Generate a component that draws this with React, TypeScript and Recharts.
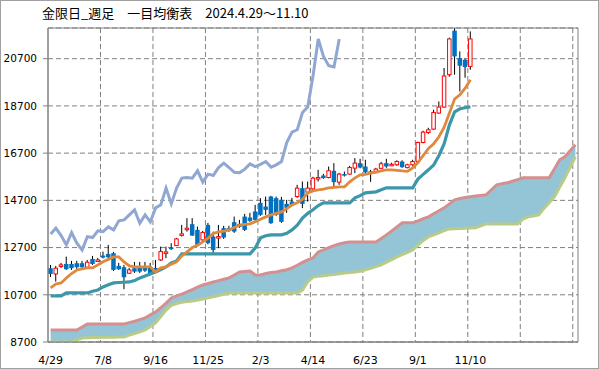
import React from 'react';
import { ComposedChart, Bar, Line, Area, XAxis, YAxis, CartesianGrid, ReferenceArea } from 'recharts';

// weekly candles, 2024/4/29 .. 2025/11/10
const xTickLabels = ['4/29', '7/8', '9/16', '11/25', '2/3', '4/14', '6/23', '9/1', '11/10'];
const xTicks = [0, 10, 20, 30, 40, 50, 60, 70, 80];
const gridX = [9.5, 19.5, 29.5, 39.5, 49.5, 59.5, 69.5, 79.5, 89.5, 99.5];
const yTicks = [8700, 10700, 12700, 14700, 16700, 18700, 20700];

const opens = [
  11825, 11583, 11901, 12007, 12007, 12037, 12037, 11867, 12219, 12135,
  12359, 12431, 12461, 11923, 11867, 11613, 11825, 11867, 11867, 11867,
  11838, 12177, 12482, 12699, 12783, 13258, 13491, 13691, 13449, 13025,
  13661, 13165, 13144, 13521, 13521, 13775, 13703, 14013, 13971, 14225,
  14594, 14437, 14861, 14793, 14721, 14551, 14649, 14861, 15217, 15047,
  15187, 15645, 15751, 15667, 15951, 15471, 15811, 15811, 16065, 16277,
  16133, 15929, 15879, 16057, 16277, 16205, 16205, 16345, 16086, 16205,
  16345, 17151, 17575, 17719, 18397, 18651, 20021, 21887, 20729, 20657,
  20373,
];
const highs = [
  11965, 11923, 12050, 12317, 12135, 12135, 12135, 12177, 12347, 12262,
  12529, 12813, 12516, 12050, 11965, 11838, 12092, 12092, 12092, 12050,
  12177, 12741, 12741, 12885, 13110, 13661, 13945, 13945, 13589, 13407,
  13746, 13377, 13661, 13619, 13619, 14013, 13873, 14127, 14170, 14509,
  14793, 14861, 14891, 14861, 14848, 14721, 14806, 15357, 15497, 15497,
  15696, 15993, 15823, 16133, 16277, 15866, 15921, 16163, 16489, 16459,
  16417, 15993, 16078, 16332, 16459, 16290, 16396, 16396, 16247, 16417,
  17180, 17647, 17774, 18537, 18889, 20305, 21590, 21990, 21009, 20699,
  21857,
];
const lows = [
  11456, 11257, 11838, 11753, 11753, 11795, 11838, 11838, 11965, 12092,
  12241, 12249, 11711, 11753, 10935, 11583, 11626, 11626, 11668, 11541,
  11668, 12135, 12249, 12601, 12771, 13165, 13377, 13195, 12771, 12983,
  12834, 12431, 12673, 13067, 13364, 13322, 13534, 13407, 13788, 13831,
  14043, 14085, 13703, 14043, 13746, 14170, 14467, 14806, 14369, 14649,
  15145, 15497, 15611, 15633, 15217, 15357, 15709, 15781, 15853, 16057,
  15823, 15484, 15845, 16035, 16078, 16163, 16163, 16078, 16057, 16163,
  16290, 17117, 17519, 17689, 18367, 18622, 19936, 20021, 19313, 19894,
  20233,
];
const closes = [
  11583, 11825, 11965, 11783, 11825, 11867, 11867, 12079, 12007, 12177,
  12275, 12291, 11753, 11783, 11443, 11753, 11681, 11681, 11723, 11583,
  11711, 12529, 12516, 12631, 13067, 13279, 13521, 13207, 12813, 13335,
  12885, 12601, 13165, 13123, 13407, 13377, 13576, 13449, 13831, 13873,
  14085, 14297, 13733, 14085, 13788, 14382, 14509, 15217, 14551, 15217,
  15641, 15667, 15641, 15951, 15471, 15811, 15751, 16091, 16277, 16091,
  15887, 15866, 16023, 16247, 16133, 16226, 16345, 16107, 16205, 16345,
  17151, 17591, 17689, 18423, 18651, 19966, 21535, 20797, 20403, 20347,
  21535,
];

// 転換線
const tenkan = [
  10990, 11159, 11202, 11414, 11600, 11750, 11800, 11838, 11838, 11965,
  12100, 12200, 12304, 12304, 12092, 11922, 11880, 11880, 11880, 11880,
  11668, 11838, 11880, 12000, 12092, 12346, 12516, 12700, 12800, 12940,
  13100, 13300, 13364, 13400, 13449, 13550, 13650, 13680, 13703, 13800,
  13900, 14000, 14085, 14150, 14212, 14350, 14500, 14600, 14750, 15018,
  15100, 15145, 15180, 15230, 15250, 15270, 15272, 15484, 15650, 15781,
  15800, 15850, 15900, 15950, 15993, 15990, 15970, 15950, 15930, 16078,
  16300, 16600, 16900, 17100, 17392, 17800, 18400, 19000, 19173, 19450,
  19809,
];
// 基準線
const kijun = [
  10650, 10650, 10650, 10778, 10778, 10778, 10778, 10778, 10850, 10905,
  11032, 11120, 11202, 11220, 11230, 11244, 11300, 11414, 11500, 11580,
  11668, 11770, 11880, 12050, 12134, 12431, 12431, 12431, 12431, 12431,
  12431, 12431, 12431, 12431, 12431, 12431, 12431, 12431, 12431, 12686,
  13110, 13200, 13237, 13237, 13237, 13300, 13449, 13650, 13950, 14150,
  14300, 14480, 14594, 14594, 14594, 14594, 14594, 14594, 14806, 14900,
  15018, 15040, 15060, 15150, 15230, 15230, 15230, 15230, 15230, 15230,
  15600, 15800, 15993, 16200, 16600, 17100, 17900, 18452, 18579, 18620,
  18664,
];
// 遅行スパン
const chikou = [
  13279, 13521, 13207, 12813, 13335, 12885, 12601, 13165, 13123, 13407,
  13377, 13576, 13449, 13831, 13873, 14085, 14297, 13733, 14085, 13788,
  14382, 14509, 15217, 14551, 15217, 15641, 15667, 15641, 15951, 15471,
  15811, 15751, 16091, 16277, 16091, 15887, 15866, 16023, 16247, 16133,
  16226, 16345, 16107, 16205, 16345, 17151, 17591, 17689, 18423, 18651,
  19966, 21535, 20797, 20403, 20347, 21535,
];
// 先行スパン1
const senkouA = [
  9209, 9209, 9209, 9209, 9209, 9209, 9330, 9463, 9463, 9463,
  9463, 9463, 9463, 9463, 9463, 9520, 9580, 9650, 9718, 9850,
  9972, 10150, 10350, 10566, 10650, 10730, 10820, 10920, 11020, 11117,
  11180, 11244, 11300, 11360, 11414, 11540, 11668, 11690, 11710, 11541,
  11541, 11600, 11640, 11668, 11720, 11760, 11838, 11950, 12070, 12180,
  12262, 12516, 12600, 12700, 12780, 12850, 12900, 12940, 12940, 12940,
  12940, 12940, 12940, 13080, 13237, 13400, 13570, 13746, 13746, 13746,
  13830, 13920, 14000, 14130, 14260, 14382, 14550, 14721, 14780, 14820,
  14848, 14880, 14910, 14933, 15150, 15357, 15400, 15442, 15510, 15580,
  15654, 15654, 15654, 15654, 15654, 15654, 16030, 16417, 16544, 16800,
  17053,
];
// 先行スパン2
const senkouB = [
  8700, 8700, 8700, 8700, 8700, 8790, 8870, 8880, 8890, 8890,
  8900, 8900, 8905, 8910, 8912, 8990, 9060, 9130, 9209, 9360,
  9506, 9780, 10050, 10250, 10330, 10380, 10410, 10438, 10480, 10523,
  10570, 10620, 10670, 10720, 10778, 10778, 10778, 10778, 10778, 10778,
  10778, 10778, 10778, 10778, 10778, 10778, 10778, 10778, 10900, 11250,
  11450, 11480, 11510, 11541, 11560, 11590, 11620, 11640, 11668, 11700,
  11753, 11820, 11890, 11965, 12080, 12190, 12304, 12400, 12500, 12601,
  12800, 13000, 13152, 13240, 13322, 13420, 13491, 13500, 13510, 13520,
  13530, 13534, 13620, 13703, 13703, 13703, 13703, 13703, 13703, 13703,
  13900, 14000, 14040, 14085, 14350, 14600, 14848, 15250, 15654, 16100,
  16544,
];

const data = senkouA.map((a, i) => ({
  i,
  range: i < closes.length ? [lows[i], highs[i]] : undefined,
  open: opens[i],
  high: highs[i],
  low: lows[i],
  close: closes[i],
  tenkan: tenkan[i],
  kijun: kijun[i],
  chikou: chikou[i],
  spanA: a,
  spanB: senkouB[i],
  cloud: [senkouB[i], a],
}));

function Candle(props: any) {
  const { x, y, width, height, payload } = props;
  if (!payload || payload.open == null || height == null) return null;
  const { open, close, high, low } = payload;
  const top = Math.min(y, y + height);
  const h = Math.abs(height);
  const k = high > low ? h / (high - low) : 0;
  const cx = x + width / 2;
  const up = close >= open;
  const bodyTop = top + (high - Math.max(open, close)) * k;
  const bodyH = Math.max(Math.abs(close - open) * k, 1.5);
  return (
    <g>
      <line x1={cx} x2={cx} y1={top} y2={top + h} stroke="#000" strokeWidth={1} />
      {up ? (
        <rect x={cx - 1.75} y={bodyTop} width={3.5} height={bodyH} fill="#fff" stroke="#ff0000" strokeWidth={1} />
      ) : (
        <rect x={cx - 2.25} y={bodyTop} width={4.5} height={bodyH} fill="#0070c0" />
      )}
    </g>
  );
}

const tickFont = { fontFamily: 'DejaVu Sans', fontSize: 10.5, fill: '#000' };

export default function App() {
  return (
    <div style={{ position: 'absolute', left: 0, top: 0, width: 599, height: 369, background: '#fff' }}>
      <div
        style={{
          position: 'absolute',
          left: 42,
          top: 3,
          fontFamily: '"Noto Sans CJK JP"',
          fontSize: 13,
          lineHeight: '20px',
          color: '#000',
          whiteSpace: 'pre',
        }}
      >
        金限日_週足　一目均衡表　2024.4.29～11.10
      </div>
      <ComposedChart width={599} height={369} data={data} margin={{ top: 28, right: 21, bottom: 0, left: 0 }}>
        <CartesianGrid
          stroke="#808080"
          strokeDasharray="5 3"
          verticalCoordinatesGenerator={({ xAxis, offset }: any) =>
            gridX.map((v) =>
              xAxis && typeof xAxis.scale === 'function'
                ? xAxis.scale(v)
                : offset.left + ((v + 0.5) / 101) * offset.width
            )
          }
        />
        <XAxis
          dataKey="i"
          type="number"
          domain={[-0.5, 100.5]}
          ticks={xTicks}
          interval={0}
          tickFormatter={(v: number) => xTickLabels[v / 10] ?? ''}
          tick={{ ...tickFont, fontSize: 11 }}
          tickLine={false}
          tickMargin={8}
          axisLine={{ stroke: '#808080' }}
          height={27}
        />
        <YAxis
          type="number"
          domain={[8700, 22000]}
          ticks={yTicks}
          interval={0}
          allowDataOverflow
          tick={tickFont}
          tickSize={5}
          tickMargin={6}
          tickLine={{ stroke: '#808080' }}
          axisLine={{ stroke: '#808080' }}
          width={48}
        />
        <Area dataKey="cloud" type="linear" stroke="none" fill="#93c5d6" fillOpacity={1} isAnimationActive={false} activeDot={false} />
        <Line dataKey="spanB" type="linear" stroke="#b8cc88" strokeWidth={3} dot={false} activeDot={false} isAnimationActive={false} />
        <Line dataKey="spanA" type="linear" stroke="#d49090" strokeWidth={3} dot={false} activeDot={false} isAnimationActive={false} />
        <Line dataKey="chikou" type="linear" stroke="#8fa7d2" strokeWidth={3} dot={false} activeDot={false} isAnimationActive={false} />
        <Line dataKey="kijun" type="linear" stroke="#3b98ab" strokeWidth={3.2} dot={false} activeDot={false} isAnimationActive={false} />
        <Line dataKey="tenkan" type="linear" stroke="#e0883c" strokeWidth={2.8} dot={false} activeDot={false} isAnimationActive={false} />
        <Bar dataKey="range" barSize={5} shape={<Candle />} isAnimationActive={false} />
        <ReferenceArea x1={-0.5} x2={100.5} y1={8700} y2={22000} fill="none" fillOpacity={0} stroke="#808080" />
      </ComposedChart>
      <div
        style={{
          position: 'absolute',
          left: 0,
          top: 0,
          width: 599,
          height: 369,
          boxSizing: 'border-box',
          border: '1px solid #a0a0a0',
          pointerEvents: 'none',
        }}
      />
    </div>
  );
}
